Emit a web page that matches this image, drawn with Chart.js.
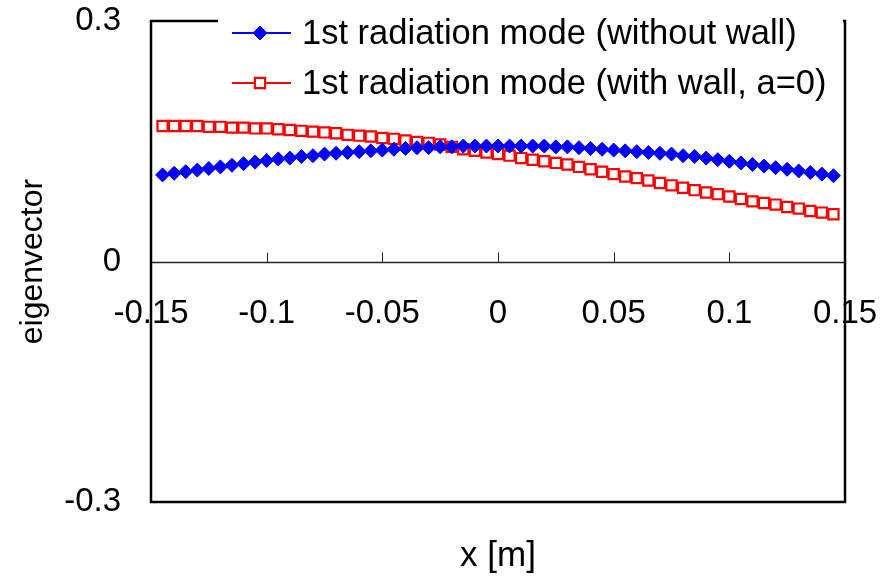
<!DOCTYPE html>
<html>
<head>
<meta charset="utf-8">
<script src="https://cdn.jsdelivr.net/npm/chart.js@4/dist/chart.umd.min.js"></script>
<style>
  html, body { margin: 0; padding: 0; background: #fff; }
  #wrap { width: 894px; height: 576px; position: relative; }
</style>
</head>
<body>
<div id="wrap"><canvas id="chart"></canvas></div>
<script>
// valores
const xValues = [
  -0.145, -0.14, -0.135, -0.13, -0.125, -0.12, -0.115, -0.11, -0.105, -0.1,
  -0.095, -0.09, -0.085, -0.08, -0.075, -0.07, -0.065, -0.06, -0.055, -0.05,
  -0.045, -0.04, -0.035, -0.03, -0.025, -0.02, -0.015, -0.01, -0.005, 0,
  0.005, 0.01, 0.015, 0.02, 0.025, 0.03, 0.035, 0.04, 0.045, 0.05,
  0.055, 0.06, 0.065, 0.07, 0.075, 0.08, 0.085, 0.09, 0.095, 0.1,
  0.105, 0.11, 0.115, 0.12, 0.125, 0.13, 0.135, 0.14, 0.145
];
const withoutWall = [
  0.108, 0.110, 0.112, 0.114, 0.116, 0.118, 0.120, 0.122, 0.124, 0.126,
  0.128, 0.129, 0.131, 0.132, 0.134, 0.135, 0.136, 0.137, 0.138, 0.139,
  0.140, 0.141, 0.142, 0.142, 0.143, 0.143, 0.144, 0.144, 0.144, 0.144,
  0.144, 0.144, 0.144, 0.144, 0.143, 0.143, 0.142, 0.141, 0.140, 0.139,
  0.138, 0.137, 0.136, 0.135, 0.134, 0.132, 0.131, 0.129, 0.127, 0.125,
  0.123, 0.121, 0.119, 0.117, 0.115, 0.113, 0.111, 0.109, 0.107
];
const withWall = [
  0.169, 0.169, 0.169, 0.169, 0.168, 0.168, 0.167, 0.167, 0.166, 0.166,
  0.165, 0.164, 0.163, 0.162, 0.161, 0.160, 0.158, 0.157, 0.156, 0.154,
  0.153, 0.151, 0.149, 0.148, 0.146, 0.143, 0.140, 0.138, 0.136, 0.134,
  0.132, 0.129, 0.127, 0.125, 0.123, 0.121, 0.118, 0.115, 0.112, 0.109,
  0.106, 0.104, 0.101, 0.098, 0.095, 0.092, 0.089, 0.086, 0.084, 0.081,
  0.078, 0.075, 0.073, 0.071, 0.068, 0.066, 0.063, 0.061, 0.059
];
const xTicks = [-0.15, -0.1, -0.05, 0, 0.05, 0.1, 0.15];
const yTicks = [-0.3, 0, 0.3];
const seriesNames = ['1st radiation mode (without wall)', '1st radiation mode (with wall, a=0)'];

const FONT = "'Liberation Sans', Arial, sans-serif";
Chart.defaults.font.family = FONT;
Chart.defaults.color = '#000';

// moldura, marcas do eixo, legenda e título do eixo x
const framePlugin = {
  id: 'frame',
  afterDraw(chart) {
    const { ctx, chartArea: a, scales: { x, y } } = chart;
    ctx.save();

    const y0 = Math.round(y.getPixelForValue(0)) + 0.5;
    ctx.strokeStyle = '#222';
    ctx.lineWidth = 1.3;
    ctx.beginPath();
    ctx.moveTo(a.left, y0);
    ctx.lineTo(a.right, y0);
    ctx.stroke();

    ctx.lineWidth = 1;
    xTicks.forEach(v => {
      if (v <= x.min || v >= x.max) return;
      const px = Math.round(x.getPixelForValue(v)) + 0.5;
      ctx.beginPath();
      ctx.moveTo(px, y0);
      ctx.lineTo(px, y0 - 10);
      ctx.stroke();
    });

    ctx.strokeStyle = '#000';
    ctx.lineWidth = 2.5;
    ctx.strokeRect(a.left, a.top, a.right - a.left, a.bottom - a.top);

    // caixa da legenda
    ctx.fillStyle = '#fff';
    ctx.fillRect(218, a.top - 3, a.right - 220, 85);

    chart.data.datasets.forEach((ds, i) => {
      const ly = 33 + 50 * i;
      ctx.strokeStyle = ds.borderColor;
      ctx.lineWidth = 2;
      ctx.beginPath();
      ctx.moveTo(232, ly);
      ctx.lineTo(291, ly);
      ctx.stroke();
      ctx.fillStyle = ds.pointBackgroundColor;
      ctx.strokeStyle = ds.pointBorderColor;
      ctx.lineWidth = ds.pointBorderWidth;
      Chart.helpers.drawPoint(ctx, {
        pointStyle: ds.pointStyle,
        radius: ds.pointRadius,
        borderWidth: ds.pointBorderWidth,
        rotation: 0
      }, 260, ly);
      ctx.fillStyle = '#000';
      ctx.font = '34.5px ' + FONT;
      ctx.textAlign = 'left';
      ctx.textBaseline = 'middle';
      ctx.fillText(ds.label, 302, ly + 1);
    });

    ctx.fillStyle = '#000';
    ctx.font = '35px ' + FONT;
    ctx.textAlign = 'center';
    ctx.textBaseline = 'middle';
    ctx.fillText('x [m]', (a.left + a.right) / 2, 556);
    ctx.restore();
  }
};

const ctx = document.getElementById('chart').getContext('2d');
new Chart(ctx, {
  type: 'line',
  data: {
    datasets: [
      {
        label: seriesNames[0],
        data: xValues.map((v, i) => ({ x: v, y: withoutWall[i] })),
        borderColor: '#0000FF',
        borderWidth: 2,
        pointStyle: 'rectRot',
        pointRadius: 7,
        pointBackgroundColor: '#0000FF',
        pointBorderColor: '#0000FF',
        pointBorderWidth: 1,
        tension: 0
      },
      {
        label: seriesNames[1],
        data: xValues.map((v, i) => ({ x: v, y: withWall[i] })),
        borderColor: '#FF0000',
        borderWidth: 1.5,
        pointStyle: 'rect',
        pointRadius: 7.2,
        pointBackgroundColor: '#FFFFFF',
        pointBorderColor: '#FF0000',
        pointBorderWidth: 2.2,
        tension: 0
      }
    ]
  },
  options: {
    responsive: true,
    maintainAspectRatio: false,
    animation: false,
    layout: { padding: { top: 21, right: 49, bottom: 74, left: 0 } },
    plugins: {
      legend: { display: false },
      tooltip: { enabled: false }
    },
    scales: {
      x: {
        type: 'linear',
        position: { y: 0 },
        min: -0.15,
        max: 0.15,
        afterBuildTicks: s => { s.ticks = xTicks.map(v => ({ value: v })); },
        afterFit: s => { s.paddingLeft = 0; s.paddingRight = 0; },
        grid: { display: false, drawTicks: false },
        border: { display: false },
        ticks: {
          font: { size: 33 }, padding: 33, maxRotation: 0, autoSkip: false, color: '#000',
          callback: v => String(v)
        }
      },
      y: {
        min: -0.3,
        max: 0.3,
        afterBuildTicks: s => { s.ticks = yTicks.map(v => ({ value: v })); },
        afterFit: s => { s.width = 151; s.paddingTop = 0; s.paddingBottom = 0; },
        grid: { display: false, drawTicks: false },
        border: { display: false },
        ticks: { font: { size: 33 }, padding: 30, color: '#000', callback: v => String(v) },
        title: { display: true, text: 'eigenvector', font: { size: 32 }, padding: { top: 14 }, color: '#000' }
      }
    }
  },
  plugins: [framePlugin]
});
</script>
</body>
</html>
